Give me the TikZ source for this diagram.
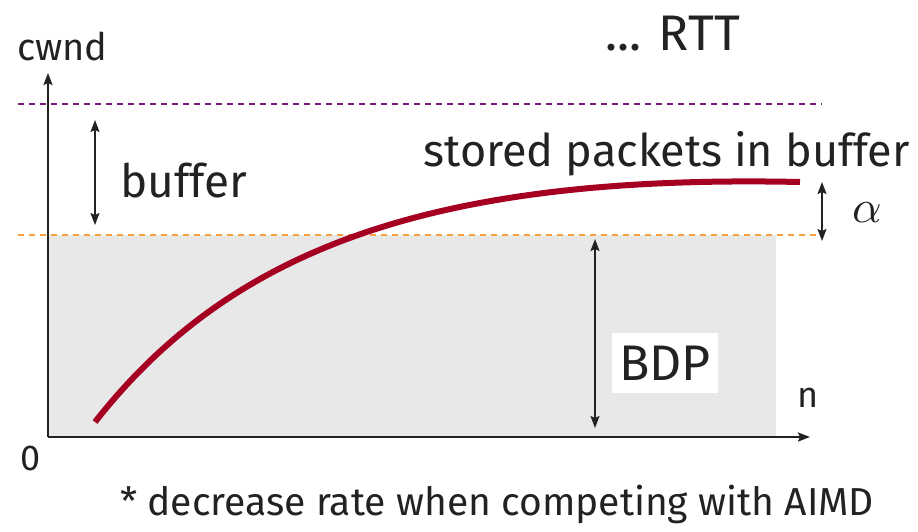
\documentclass[tikz,border=0pt]{standalone}
\usepackage{graphicx}
\usepackage{fontspec}
\setmainfont{Fira Sans}
\usetikzlibrary{arrows.meta}
\definecolor{axisc}{HTML}{222222}
\definecolor{curvec}{HTML}{A50021}
\definecolor{bggray}{HTML}{E8E8E8}
\definecolor{purp}{HTML}{7B1A7B}
\definecolor{orng}{HTML}{F7A040}
\tikzset{
  tip/.style={-{Stealth[length=12pt,width=9pt,inset=2pt]}},
  dtip/.style={{Stealth[length=12pt,width=9pt,inset=2pt]}-{Stealth[length=12pt,width=9pt,inset=2pt]}},
  lbl/.style={inner sep=0pt, text=axisc},
  dashline/.style={dashed, dash pattern=on 6pt off 5pt, line width=1.4pt}
}
\begin{document}
\begin{tikzpicture}[x=1pt,y=-1pt]
\useasboundingbox (0,0) rectangle (918,531);
\fill[bggray] (48,235) rectangle (776,437);
\coordinate (o) at (48,437);
\coordinate (ytop) at (48,73);
\coordinate (xend) at (810,437);
\coordinate (pl) at (18,104); \coordinate (pr) at (822,104);
\coordinate (ol) at (18,235); \coordinate (or) at (822,235);
\draw[dashline, purp] (pl) -- (pr);
\draw[dashline, orng] (ol) -- (or);
\draw[tip, axisc, line width=1.5pt] (o) -- (ytop);
\draw[tip, axisc, line width=2.2pt] (o) -- (xend);
% curve
\coordinate (cs) at (95,422);
\coordinate (ce) at (800,182);
\draw[curvec, line width=6pt] (cs) .. controls (230,250) and (430,174) .. (ce);
% buffer arrow
\coordinate (b1) at (95,120); \coordinate (b2) at (95,225);
\draw[dtip, axisc, line width=1.5pt] (b1) -- (b2);
% alpha arrow
\coordinate (a1) at (822,182); \coordinate (a2) at (822,241);
\draw[dtip, axisc, line width=1.5pt] (a1) -- (a2);
% BDP arrow
\coordinate (d1) at (595,239); \coordinate (d2) at (595,428);
\draw[dtip, axisc, line width=1.5pt] (d1) -- (d2);
% labels
\node[lbl, anchor=base west, font=\fontsize{38}{38}\selectfont] (cwnd) at (17,60) {cwnd};
\node[lbl, anchor=base west, font=\fontsize{50}{50}\selectfont] (rtt) at (605,50) {... RTT};
\node[lbl, anchor=base east, font=\fontsize{45}{45}\selectfont] (stored) at (910,166) {stored packets in buffer};
\node[lbl, anchor=base west, font=\fontsize{46}{46}\selectfont] (buf) at (120,197) {buffer};
\node[lbl] (alpha) at (867,213) {\scalebox{4.6}{$\alpha$}};
\node[fill=white, minimum width=106pt, minimum height=60pt, inner sep=0pt, text=axisc, font=\fontsize{50}{50}\selectfont] (bdp) at (665,363) {BDP};
\node[lbl, font=\fontsize{36}{36}\selectfont] (n) at (808,398) {n};
\node[lbl, font=\fontsize{36}{36}\selectfont] (zero) at (31,458) {0};
\node[lbl, anchor=base west, font=\fontsize{39}{39}\selectfont] (foot) at (120,515) {* decrease rate when competing with AIMD};
\end{tikzpicture}
\end{document}
